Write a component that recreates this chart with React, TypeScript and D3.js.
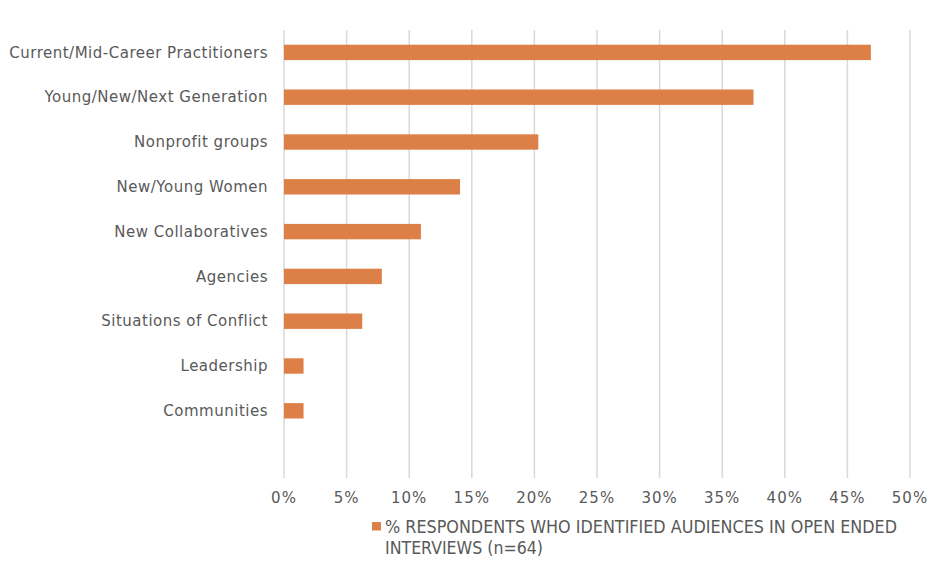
import React from "react";
import * as d3 from "d3";

const categories = [
  "Current/Mid-Career Practitioners",
  "Young/New/Next Generation",
  "Nonprofit groups",
  "New/Young Women",
  "New Collaboratives",
  "Agencies",
  "Situations of Conflict",
  "Leadership",
  "Communities",
  "",
];
const values = [46.875, 37.5, 20.3125, 14.0625, 10.9375, 7.8125, 6.25, 1.5625, 1.5625, null];
const xTicks = [0, 5, 10, 15, 20, 25, 30, 35, 40, 45, 50];
const legendLines = ["% RESPONDENTS WHO IDENTIFIED AUDIENCES IN OPEN ENDED", "INTERVIEWS (n=64)"];
const legendWidths = [512, 158];

const W = 940, H = 564;
const margin = { left: 284, right: 30, top: 30, bottom: 86 };
const barColor = "#DD8048";
const textColor = "#595959";
const font = "'DejaVu Sans', sans-serif";

export default function App() {
  const x = d3.scaleLinear().domain([0, 50]).range([margin.left, 910]);
  const band = (H - margin.bottom - margin.top) / categories.length;
  return (
    <svg width={W} height={H} style={{ position: "absolute", left: 0, top: 0, background: "#fff" }} fontFamily={font}>
      {xTicks.map((t) => (
        <line key={t} x1={x(t)} x2={x(t)} y1={margin.top} y2={H - margin.bottom} stroke="#D9D9D9" strokeWidth={1.5} />
      ))}
      {categories.map((c, i) => {
        const v = values[i];
        const cy = margin.top + band * (i + 0.5);
        return (
          <g key={i}>
            {v != null && (
              <rect x={x(0)} y={cy - 7.7} width={x(v) - x(0)} height={15.4} fill={barColor} />
            )}
            <text x={268} y={cy} dy="0.35em" textAnchor="end" fontSize={15} letterSpacing={0.5} fill={textColor}>{c}</text>
          </g>
        );
      })}
      {xTicks.map((t) => (
        <text key={"l" + t} x={x(t)} y={498} dy="0.35em" textAnchor="middle" fontSize={15} letterSpacing={1} fill={textColor}>{t}%</text>
      ))}
      <rect x={372} y={522} width={9} height={8.5} fill={barColor} />
      {legendLines.map((l, i) => (
        <text key={l} x={385} y={527 + i * 21} dy="0.36em" fontSize={17} fill={textColor} fontFamily="'DejaVu Sans Condensed', 'Liberation Sans Narrow', sans-serif" textLength={legendWidths[i]} lengthAdjust="spacingAndGlyphs">{l}</text>
      ))}
    </svg>
  );
}
